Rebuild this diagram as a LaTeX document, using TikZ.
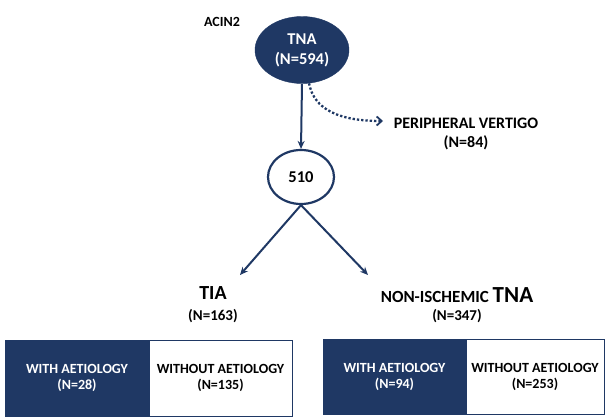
\documentclass[tikz,border=0pt]{standalone}
\usepackage{fontspec}
\setmainfont{Carlito}
\usepackage{tikz}
\usetikzlibrary{positioning}
\usetikzlibrary{shapes.geometric}
\usetikzlibrary{arrows.meta}
\definecolor{navy}{RGB}{31,56,100}

\tikzset{
  lbl/.style={font=\bfseries\fontsize{15}{17}\selectfont, align=center, inner sep=0pt},
  darkell/.style={ellipse, fill=navy, draw=navy, text=white, font=\bfseries\fontsize{16.5}{20}\selectfont, align=center, inner sep=0pt},
  lightell/.style={ellipse, draw=navy, line width=2.2pt, fill=white, font=\bfseries\fontsize{16.5}{18}\selectfont, inner sep=0pt},
  darkbox/.style={rectangle, fill=navy, draw=navy, line width=1pt, text=white, font=\bfseries\fontsize{14}{16.5}\selectfont, align=center, inner sep=0pt},
  lightbox/.style={rectangle, fill=white, draw=navy, line width=1pt, text=black, font=\bfseries\fontsize{14}{16.5}\selectfont, align=center, inner sep=0pt},
  link/.style={draw=navy, line width=2pt, -{Stealth[length=8pt,width=7pt]}},
}

\begin{document}
\begin{tikzpicture}[x=1pt,y=-1pt]
\useasboundingbox (0,0) rectangle (606,420);
% cohort
\node[lbl, font=\bfseries\fontsize{14}{16}\selectfont] (acin) at (222,22) {ACIN2};
\node[darkell, minimum width=94pt, minimum height=67pt] (tna) at (302,50) {TNA\\(N=594)};
\node[lightell, minimum width=66pt, minimum height=54pt] (n510) at (301,177) {510};
\node[lbl, font=\bfseries\fontsize{16}{18.5}\selectfont] (pv) at (466,134) {PERIPHERAL VERTIGO\\(N=84)};
\coordinate (pvin) at (383,121);
% arrows
\draw[link] (tna.south) -- (n510.north);
\draw[draw=navy, line width=2.3pt, dotted, -{Straight Barb[length=5pt,width=9pt,line width=1.8pt]}]
  (tna.-78) .. controls (314,110) and (340,121) .. (pvin);
% groups
\node[lbl, font=\bfseries\fontsize{20}{22}\selectfont] (tia) at (213,293) {TIA};
\node[lbl] (tian) at (213,316) {(N=163)};
\node[lbl, font=\bfseries\fontsize{17}{20}\selectfont] (nis) at (457,295) {NON-ISCHEMIC {\fontsize{23}{24}\selectfont TNA}};
\node[lbl] (nisn) at (457,316) {(N=347)};
\coordinate (tiain) at (240,275);
\coordinate (nisin) at (368,275);
\draw[link] (n510.south) -- (tiain);
\draw[link] (n510.south) -- (nisin);
% aetiology
\node[darkbox, minimum width=144pt, minimum height=76pt] (tiaw) at (77,378) {WITH AETIOLOGY\\(N=28)};
\node[lightbox, minimum width=143pt, minimum height=76pt] (tiawo) at (220.5,378) {WITHOUT AETIOLOGY\\(N=135)};
\node[darkbox, minimum width=143pt, minimum height=75pt] (nisw) at (394.5,377) {WITH AETIOLOGY\\(N=94)};
\node[lightbox, minimum width=138pt, minimum height=75pt] (niswo) at (535,377) {WITHOUT AETIOLOGY\\(N=253)};
\end{tikzpicture}
\end{document}
